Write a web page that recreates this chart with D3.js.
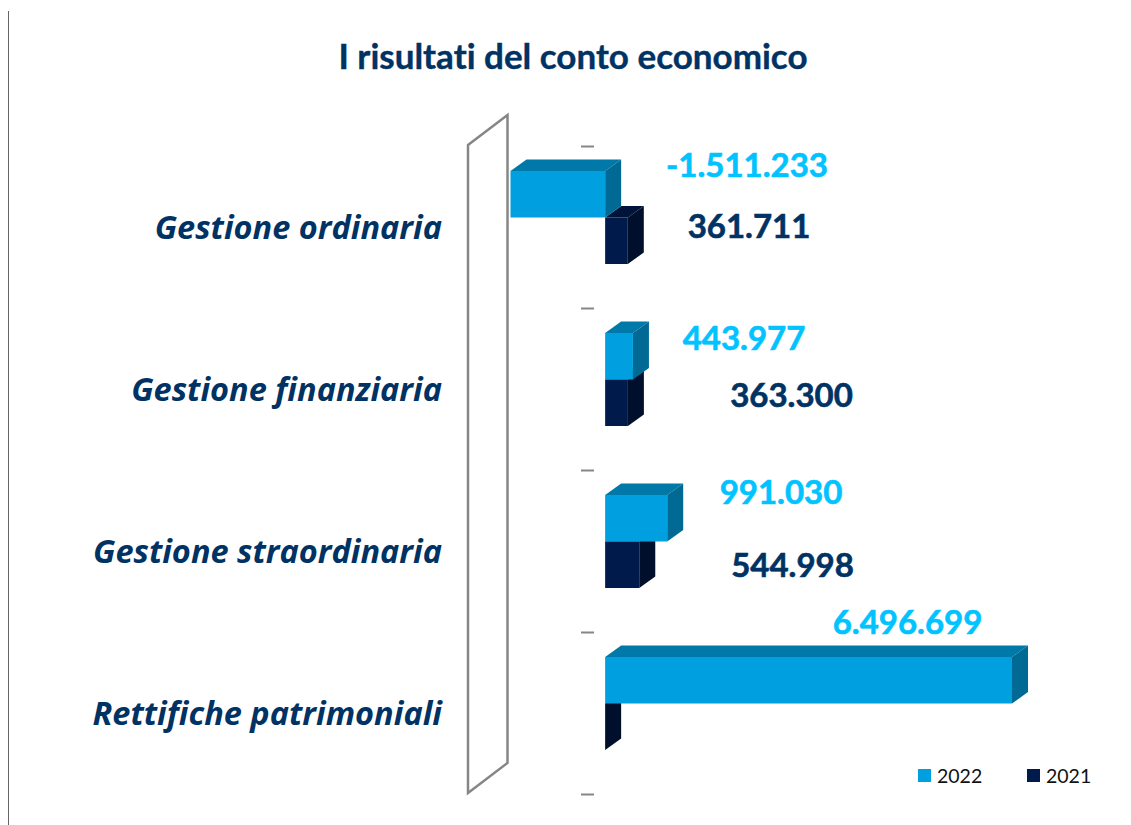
<!DOCTYPE html>
<html>
<head>
<meta charset="utf-8">
<script src="https://cdn.jsdelivr.net/npm/d3@7"></script>
<style>
  html, body { margin: 0; padding: 0; background: #fff; overflow: hidden; }
  text { font-family: Lato, "Open Sans", sans-serif; font-variant-ligatures: none; }
  .cat { font-family: "Open Sans", sans-serif; }
</style>
</head>
<body>
<div id="chart"></div>
<script>
const categories = ["Gestione ordinaria", "Gestione finanziaria", "Gestione straordinaria", "Rettifiche patrimoniali"];
const years = ["2022", "2021"];
const values2022 = [-1511233, 443977, 991030, 6496699];
const values2021 = [361711, 363300, 544998, 0];
const labels2022 = ["-1.511.233", "443.977", "991.030", "6.496.699"];
const labels2021 = ["361.711", "363.300", "544.998", ""];
// label anchors in chart units
const labelX2022 = [747, 744, 781, 907.5];
const labelY2022 = [166, 339, 493, 623];
const labelX2021 = [749, 791.5, 792.5, null];
const labelY2021 = [227, 396, 566, null];

const width = 1131, height = 825;
const dx = 16, dy = -11.5;

const svg = d3.select("#chart").append("svg")
  .attr("width", width)
  .attr("height", height);

const x = d3.scaleLinear().domain([-1511233, 6496699]).range([510.5, 1012]);
const y = d3.scaleBand().domain(categories).range([146, 794]);
const inner = d3.scaleBand().domain(years).range([25, 118]);

const frontColor = { "2022": "#009fe0", "2021": "#001a4b" };
const topColor = { "2022": "#0079a8", "2021": "#001338" };
const sideColor = { "2022": "#006a94", "2021": "#000f2c" };

// page edge line
svg.append("line")
  .attr("x1", 8.5).attr("x2", 8.5)
  .attr("y1", 11).attr("y2", 825)
  .attr("stroke", "#666");

svg.append("text")
  .attr("x", 573).attr("y", 69)
  .attr("text-anchor", "middle")
  .attr("font-size", 35)
  .attr("font-weight", 700)
  .attr("fill", "#003263")
  .attr("stroke", "#003263")
  .attr("stroke-width", 0.4)
  .text("I risultati del conto economico");

// 3d wall
svg.append("path")
  .attr("d", d3.line()([[468, 145], [507.5, 115], [507.5, 763], [468, 793]]) + "Z")
  .attr("fill", "#fff")
  .attr("stroke", "#868686")
  .attr("stroke-width", 2.5);

// category ticks
const tickScale = d3.scaleLinear().domain([0, 4]).range([146, 794]);
const axis = svg.append("g")
  .attr("transform", "translate(594,0)")
  .call(d3.axisLeft(tickScale).tickValues([0, 1, 2, 3, 4]).tickSize(13).tickFormat(""));
axis.select(".domain").remove();
axis.selectAll("line").attr("stroke", "#868686").attr("stroke-width", 2);

svg.selectAll(".cat")
  .data(categories)
  .enter()
  .append("text")
  .attr("class", "cat")
  .attr("x", 442)
  .attr("y", d => y(d) + y.bandwidth() / 2 + 12)
  .attr("text-anchor", "end")
  .attr("font-size", 32.5)
  .attr("font-weight", 700)
  .attr("font-style", "italic")
  .attr("fill", "#003263")
  .text(d => d);

function drawBars(year, values) {
  const g = svg.append("g").attr("class", "y" + year);
  categories.forEach((c, i) => {
    const v = values[i];
    const x0 = Math.min(x(0), x(v)), x1 = Math.max(x(0), x(v));
    const y0 = y(c) + inner(year), y1 = y0 + inner.bandwidth();
    const poly = pts => d3.line()(pts) + "Z";
    g.append("path")
      .attr("d", poly([[x0, y0], [x0 + dx, y0 + dy], [x1 + dx, y0 + dy], [x1, y0]]))
      .attr("fill", topColor[year]);
    g.append("path")
      .attr("d", poly([[x1, y0], [x1 + dx, y0 + dy], [x1 + dx, y1 + dy], [x1, y1]]))
      .attr("fill", sideColor[year]);
    g.append("rect")
      .attr("x", x0).attr("y", y0)
      .attr("width", x1 - x0).attr("height", y1 - y0)
      .attr("fill", frontColor[year]);
  });
}
// 2021 sits behind 2022 in the overlap of the depth faces
drawBars("2021", values2021);
drawBars("2022", values2022);

function drawLabels(labels, xs, ys, color) {
  labels.forEach((t, i) => {
    if (!t) return;
    svg.append("text")
      .attr("x", xs[i]).attr("y", ys[i] + 11)
      .attr("text-anchor", "middle")
      .attr("font-size", 33)
      .attr("font-weight", 700)
      .attr("fill", color)
      .attr("stroke", color)
      .attr("stroke-width", 0.6)
      .text(t);
  });
}
drawLabels(labels2022, labelX2022, labelY2022, "#00c3ff");
drawLabels(labels2021, labelX2021, labelY2021, "#003263");

// legend
const legendX = [918, 1027];
years.forEach((yr, i) => {
  svg.append("rect")
    .attr("x", legendX[i]).attr("y", 769)
    .attr("width", 13).attr("height", 13)
    .attr("fill", frontColor[yr]);
  svg.append("text")
    .attr("x", legendX[i] + 19).attr("y", 783)
    .attr("font-size", 19.5)
    .attr("fill", "#111")
    .text(yr);
});
</script>
</body>
</html>
